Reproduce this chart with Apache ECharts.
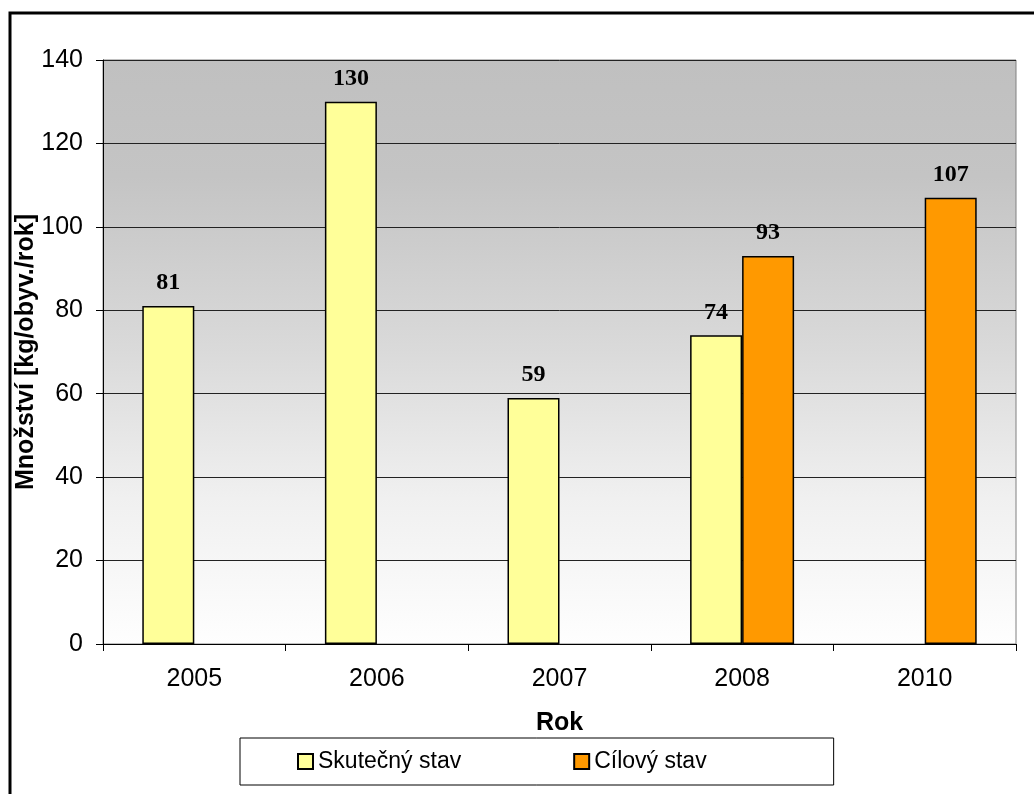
<!DOCTYPE html>
<html>
<head>
<meta charset="utf-8">
<script src="https://cdn.jsdelivr.net/npm/echarts@6/dist/echarts.min.js"></script>
<style>
html,body{margin:0;padding:0;background:#fff;}
#chart{width:1034px;height:794px;}
</style>
</head>
<body>
<div id="chart"></div>
<script>
const categories = ['2005', '2006', '2007', '2008', '2010'];
const actualValues = [81, 130, 59, 74, '-'];
const targetValues = ['-', '-', '-', 93, 107];
const seriesNames = ['Skutečný stav', 'Cílový stav'];
const yAxisTitle = 'Množství [kg/obyv./rok]';
const xAxisTitle = 'Rok';

const chart = echarts.init(document.getElementById('chart'));
const labelStyle = {
  show: true,
  position: 'top',
  distance: 11,
  fontFamily: '"Liberation Serif", "Times New Roman", serif',
  fontWeight: 'bold',
  fontSize: 24,
  color: '#000'
};
const sans = '"Liberation Sans", Arial, sans-serif';
chart.setOption({
  animation: false,
  backgroundColor: '#fff',
  graphic: [{
    type: 'rect',
    shape: { x: 10, y: 13, width: 1040, height: 800 },
    style: { fill: 'none', stroke: '#000', lineWidth: 3 },
    z: 100
  }],
  grid: {
    left: 103, right: 18, top: 60, bottom: 150,
    outerBoundsMode: 'none',
    containLabel: false,
    show: true,
    borderColor: '#808080',
    borderWidth: 1,
    backgroundColor: new echarts.graphic.LinearGradient(0, 0, 0, 1, [
      { offset: 0, color: '#c0c0c0' },
      { offset: 0.2, color: '#c4c4c4' },
      { offset: 0.5, color: '#dadada' },
      { offset: 0.75, color: '#f0f0f0' },
      { offset: 1, color: '#fefefe' }
    ])
  },
  legend: {
    left: 240,
    top: 738,
    data: seriesNames,
    itemWidth: 15,
    itemHeight: 15,
    itemGap: 112,
    icon: 'rect',
    padding: [12, 127, 12, 57],
    backgroundColor: '#fff',
    borderColor: '#000',
    borderWidth: 1,
    textStyle: {
      fontFamily: sans,
      fontSize: 23,
      color: '#000'
    }
  },
  xAxis: {
    type: 'category',
    data: categories,
    name: xAxisTitle,
    nameLocation: 'middle',
    nameGap: 67,
    nameMoveOverlap: false,
    nameTextStyle: {
      fontFamily: sans,
      fontWeight: 'bold',
      fontSize: 25,
      color: '#000'
    },
    axisLine: { lineStyle: { color: '#000', width: 1 } },
    axisTick: { show: true, length: 7, lineStyle: { color: '#000' } },
    axisLabel: {
      margin: 23,
      fontFamily: sans,
      fontSize: 25,
      color: '#000'
    },
    splitLine: { show: false }
  },
  yAxis: {
    type: 'value',
    min: 0,
    max: 140,
    interval: 20,
    name: yAxisTitle,
    nameLocation: 'middle',
    nameGap: 64,
    nameMoveOverlap: false,
    nameTextStyle: {
      fontFamily: sans,
      fontWeight: 'bold',
      fontSize: 25,
      color: '#000'
    },
    axisLine: { show: true, lineStyle: { color: '#000', width: 1 } },
    axisTick: { show: true, length: 7, lineStyle: { color: '#000' } },
    axisLabel: {
      margin: 20,
      fontFamily: sans,
      fontSize: 25,
      color: '#000'
    },
    splitLine: { show: true, lineStyle: { color: '#222', width: 1 } }
  },
  series: [
    {
      name: seriesNames[0],
      type: 'bar',
      data: actualValues,
      barWidth: 52,
      barGap: '0%',
      itemStyle: { color: '#ffff99', borderColor: '#000', borderWidth: 1.5 },
      label: labelStyle
    },
    {
      name: seriesNames[1],
      type: 'bar',
      data: targetValues,
      barWidth: 52,
      barGap: '0%',
      itemStyle: { color: '#ff9900', borderColor: '#000', borderWidth: 1.5 },
      label: labelStyle
    }
  ]
});
</script>
</body>
</html>
